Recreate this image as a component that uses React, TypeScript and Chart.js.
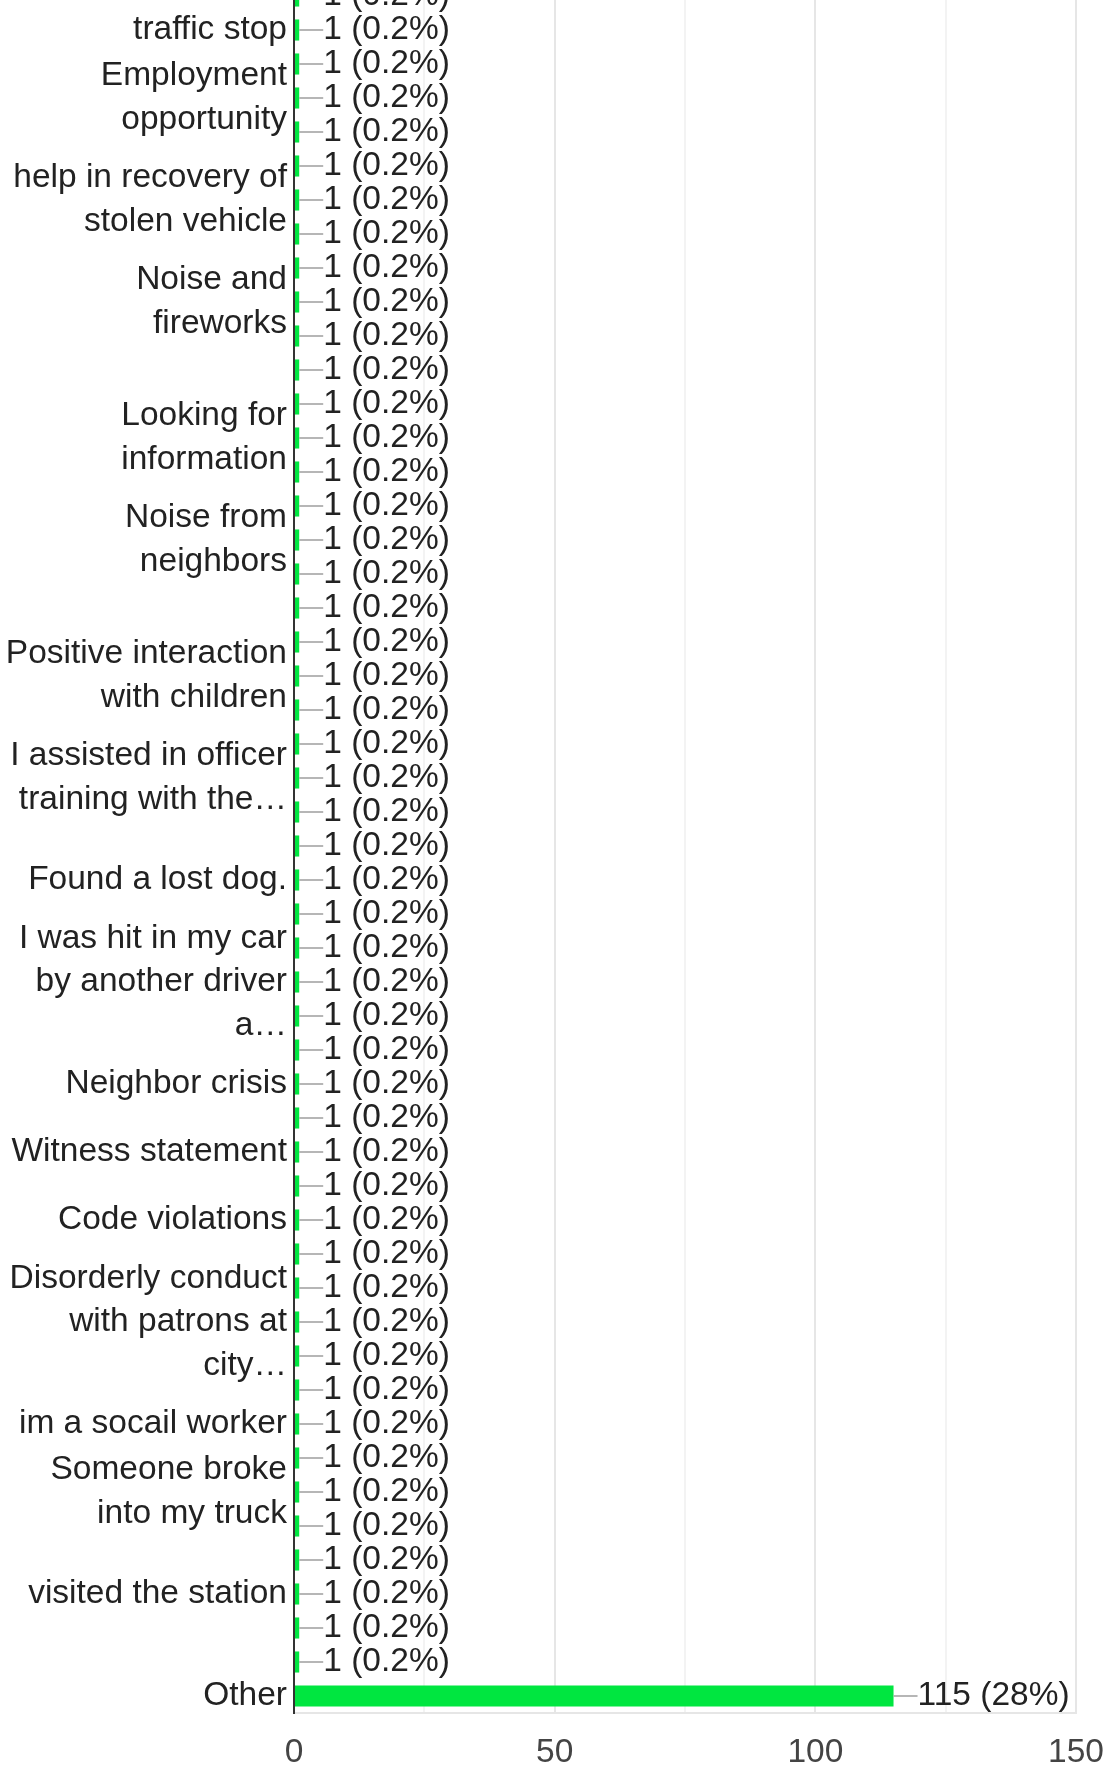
import React, { useEffect, useRef } from 'react';
import { Chart, registerables } from 'chart.js';

Chart.register(...registerables);

// Category labels (bars whose labels are hidden in the original are empty)
const categories: (string | string[])[] = [
  '',
  'traffic stop',
  '',
  ['Employment', 'opportunity'],
  '',
  '',
  ['help in recovery of', 'stolen vehicle'],
  '',
  '',
  ['Noise and', 'fireworks'],
  '',
  '',
  '',
  ['Looking for', 'information'],
  '',
  '',
  ['Noise from', 'neighbors'],
  '',
  '',
  '',
  ['Positive interaction', 'with children'],
  '',
  '',
  ['I assisted in officer', 'training with the…'],
  '',
  '',
  'Found a lost dog.',
  '',
  '',
  ['I was hit in my car', 'by another driver', 'a…'],
  '',
  '',
  'Neighbor crisis',
  '',
  'Witness statement',
  '',
  'Code violations',
  '',
  '',
  ['Disorderly conduct', 'with patrons at', 'city…'],
  '',
  '',
  'im a socail worker',
  '',
  ['Someone broke', 'into my truck'],
  '',
  '',
  'visited the station',
  '',
  '',
  'Other',
];

const counts: number[] = [
  1, 1, 1, 1, 1, 1, 1, 1, 1, 1,
  1, 1, 1, 1, 1, 1, 1, 1, 1, 1,
  1, 1, 1, 1, 1, 1, 1, 1, 1, 1,
  1, 1, 1, 1, 1, 1, 1, 1, 1, 1,
  1, 1, 1, 1, 1, 1, 1, 1, 1, 1,
  115,
];

const percents: number[] = [
  0.2, 0.2, 0.2, 0.2, 0.2, 0.2, 0.2, 0.2, 0.2, 0.2,
  0.2, 0.2, 0.2, 0.2, 0.2, 0.2, 0.2, 0.2, 0.2, 0.2,
  0.2, 0.2, 0.2, 0.2, 0.2, 0.2, 0.2, 0.2, 0.2, 0.2,
  0.2, 0.2, 0.2, 0.2, 0.2, 0.2, 0.2, 0.2, 0.2, 0.2,
  0.2, 0.2, 0.2, 0.2, 0.2, 0.2, 0.2, 0.2, 0.2, 0.2,
  28,
];

const xTickLabels: number[] = [0, 50, 100, 150];

const FONT = "'Liberation Sans', Arial, Helvetica, sans-serif";
const FONT_SIZE = 33.5;
const SHIFT = 60; // canvas extends above the visible page (chart is cropped at the top)

const dataLabelPlugin = {
  id: 'dataLabels',
  afterDatasetsDraw(chart: any) {
    const ctx = chart.ctx;
    const meta = chart.getDatasetMeta(0);
    ctx.save();
    meta.data.forEach((el: any, i: number) => {
      const x = el.x;
      const y = el.y;
      ctx.strokeStyle = '#9e9e9e';
      ctx.lineWidth = 1.5;
      ctx.beginPath();
      ctx.moveTo(x, y);
      ctx.lineTo(x + 24, y);
      ctx.stroke();
      ctx.fillStyle = '#222222';
      ctx.font = `${FONT_SIZE}px ${FONT}`;
      ctx.textBaseline = 'middle';
      ctx.textAlign = 'left';
      ctx.fillText(`${counts[i]} (${percents[i]}%)`, x + 24, y);
    });
    ctx.restore();
  },
};

export default function App() {
  const canvasRef = useRef<HTMLCanvasElement | null>(null);

  useEffect(() => {
    if (!canvasRef.current) return;
    const chart = new Chart(canvasRef.current, {
      type: 'bar',
      data: {
        labels: categories,
        datasets: [
          {
            data: counts,
            backgroundColor: '#00e640',
            borderWidth: 0,
            categoryPercentage: 1,
            barPercentage: 0.62,
          },
        ],
      },
      options: {
        indexAxis: 'y',
        animation: false,
        responsive: false,
        devicePixelRatio: 1,
        layout: { padding: { top: SHIFT - 21, right: 34, left: 0, bottom: 0 } },
        plugins: {
          legend: { display: false },
          tooltip: { enabled: false },
        },
        scales: {
          x: {
            type: 'linear',
            min: 0,
            max: 150,
            afterFit: (scale: any) => {
              scale.height = 58;
            },
            ticks: {
              stepSize: 25,
              autoSkip: false,
              maxRotation: 0,
              padding: 0,
              color: '#444444',
              font: { family: FONT, size: FONT_SIZE, lineHeight: '80px' },
              callback: (value: any) =>
                xTickLabels.includes(Number(value)) ? String(value) : '',
            },
            grid: {
              drawTicks: false,
              lineWidth: 2,
              color: (ctx: any) => {
                const v = ctx.tick ? ctx.tick.value : 0;
                if (v === 0) return 'rgba(0,0,0,0)';
                return v % 50 === 0 ? '#e6e6e6' : '#f3f3f3';
              },
            },
            border: { display: true, color: '#e6e6e6', width: 2 },
          },
          y: {
            type: 'category',
            afterFit: (scale: any) => {
              scale.width = 294;
            },
            ticks: {
              autoSkip: false,
              padding: 7,
              color: '#222222',
              font: { family: FONT, size: FONT_SIZE, lineHeight: 1.3 },
            },
            grid: { display: false, drawTicks: false },
            border: { display: true, color: '#333333', width: 2 },
          },
        },
      },
      plugins: [dataLabelPlugin],
    });
    return () => chart.destroy();
  }, []);

  return (
    <div
      style={{
        position: 'fixed',
        left: 0,
        top: 0,
        width: 1110,
        height: 1771,
        overflow: 'hidden',
        background: '#ffffff',
      }}
    >
      <div style={{ position: 'absolute', left: 0, top: -SHIFT, width: 1110, height: 1771 + SHIFT }}>
        <canvas ref={canvasRef} width={1110} height={1771 + SHIFT} style={{ display: 'block' }} />
      </div>
    </div>
  );
}
